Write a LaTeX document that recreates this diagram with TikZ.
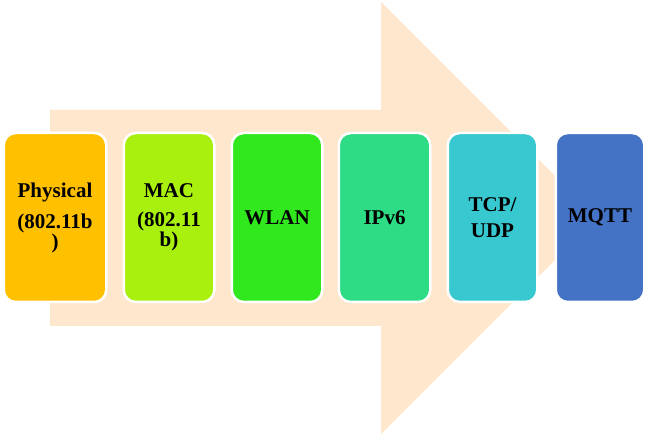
\documentclass[tikz,border=0pt]{standalone}
\usepackage{fontspec}
\setmainfont{Liberation Serif}
\definecolor{peach}{HTML}{FFE7CD}
\definecolor{cphys}{HTML}{FFC000}
\definecolor{cmac}{HTML}{A9F00F}
\definecolor{cwlan}{HTML}{31E81E}
\definecolor{cipv}{HTML}{2DDC84}
\definecolor{ctcp}{HTML}{38C8D0}
\definecolor{cmqtt}{HTML}{4472C4}
\begin{document}
\begin{tikzpicture}[x=1pt,y=-1pt,
  layer/.style={draw=white, line width=2.5pt, rounded corners=12pt,
    minimum height=169pt, inner sep=0pt, align=center, text=black,
    font=\fontsize{21}{20}\selectfont\bfseries}]
\useasboundingbox (0,0) rectangle (648,435);
\fill[peach] (50,110) -- (381,110) -- (381,2) -- (597,218) -- (381,434) -- (381,326) -- (50,326) -- cycle;
\node[layer, fill=cphys, minimum width=102.5pt] (phys) at (55,217.5) {Physical\\[11pt](802.11b\\)};
\node[layer, fill=cmac, minimum width=90.5pt] (mac) at (169,217.5) {MAC\\[9pt](802.11\\b)};
\node[layer, fill=cwlan, minimum width=90.5pt] (wlan) at (277,217.5) {WLAN};
\node[layer, fill=cipv, minimum width=91.5pt] (ipv) at (384.5,217.5) {IPv6};
\node[layer, fill=ctcp, minimum width=89.5pt] (tcp) at (492.5,217.5) {TCP/\\[6pt]UDP};
\node[layer, fill=cmqtt, minimum width=88.5pt] (mqtt) at (600,217.5) {MQTT};
\end{tikzpicture}
\end{document}
